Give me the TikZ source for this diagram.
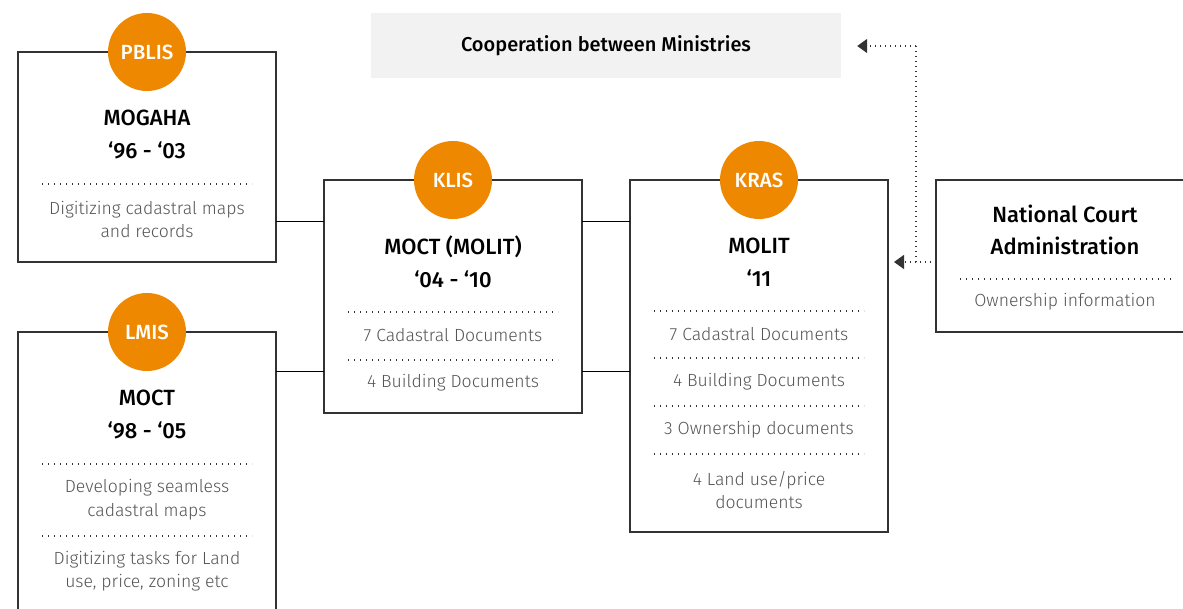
\documentclass[tikz,border=0pt]{standalone}
\usepackage{fontspec}
\setmainfont{Fira Sans}
\newfontfamily\lightf{Fira Sans Light}
\newfontfamily\medf{Fira Sans Medium}
\usetikzlibrary{arrows.meta}
\definecolor{orng}{HTML}{EE8800}
\definecolor{grtxt}{HTML}{555555}
\definecolor{edgec}{HTML}{333333}
\definecolor{coopfill}{HTML}{F2F2F2}
\begin{document}
\begin{tikzpicture}[x=1pt,y=-1pt,
 box/.style={draw=edgec,line width=1.1pt,inner sep=0pt,outer sep=0pt},
 badge/.style={circle,fill=orng,minimum size=78pt,inner sep=0pt,text=white,font=\medf\fontsize{20.5}{22}\selectfont},
 ttl/.style={font=\medf\fontsize{22}{32.5}\selectfont,align=center,text=black,inner sep=0pt},
 itm/.style={font=\lightf\fontsize{17.6}{23.5}\selectfont,align=center,text=grtxt,inner sep=0pt},
 sepl/.style={draw=edgec,line width=1.6pt,dash pattern=on 1.4pt off 4.6pt},
 link/.style={draw=black,line width=1pt},
 dotlink/.style={draw=edgec,line width=1.5pt,dash pattern=on 1.4pt off 3.6pt},
 tipa/.style={-{Triangle[length=10pt,width=14pt]}}
]
\useasboundingbox (0,0) rectangle (1183,609);
\clip (0,0) rectangle (1183,609);
% boxes
\node[box,minimum width=258pt,minimum height=210pt] (A) at (147,157) {};
\node[box,minimum width=258pt,minimum height=308pt] (B) at (147,486) {};
\node[box,minimum width=258pt,minimum height=233pt] (C) at (453,296.5) {};
\node[box,minimum width=258pt,minimum height=352pt] (D) at (759,356) {};
\node[box,minimum width=258pt,minimum height=152pt] (E) at (1065,256) {};
\node[fill=coopfill,minimum width=470pt,minimum height=65pt,inner sep=0pt,font=\medf\fontsize{20}{22}\selectfont] (F) at (606,45.5) {Cooperation between Ministries};
% connectors
\draw[link] (A.east |- 0,222) -- (C.west |- 0,222);
\draw[link] (B.east |- 0,372) -- (C.west |- 0,372);
\draw[link] (C.east |- 0,222) -- (D.west |- 0,222);
\draw[link] (C.east |- 0,372) -- (D.west |- 0,372);
\coordinate (j1) at (916,262);
\coordinate (j2) at (916,46);
\draw[dotlink] (E.west |- j1) -- (j1) -- (j2);
\draw[dotlink,tipa] (j2) -- ([xshift=16pt]F.east |- j2);
\draw[dotlink,tipa] (j1) -- ([xshift=6pt]D.east |- j1);
% badges
\node[badge] (pA) at (A.north) {PBLIS};
\node[badge] (pB) at (B.north) {LMIS};
\node[badge] (pC) at (C.north) {KLIS};
\node[badge] (pD) at (D.north) {KRAS};
% box A
\node[ttl] (tA) at (147,134.5) {MOGAHA\\‘96 - ‘03};
\draw[sepl] (42,184) -- (252,184);
\node[itm] (iA1) at (147,219.5) {Digitizing cadastral maps\\and records};
% box B
\node[ttl] (tB) at (147,414.5) {MOCT\\‘98 - ‘05};
\draw[sepl] (42,464) -- (252,464);
\node[itm] (iB1) at (147,499.5) {Developing seamless\\cadastral maps};
\draw[sepl] (42,536) -- (252,536);
\node[itm] (iB2) at (147,571) {Digitizing tasks for Land\\use, price, zoning etc};
% box C
\node[ttl] (tC) at (453,262) {MOCT (MOLIT)\\‘04 - ‘10};
\draw[sepl] (348,312) -- (558,312);
\node[itm] (iC1) at (453,335) {7 Cadastral Documents};
\draw[sepl] (348,360) -- (558,360);
\node[itm] (iC2) at (453,383) {4 Building Documents};
% box D
\node[ttl] (tD) at (759,262) {MOLIT\\‘11};
\draw[sepl] (654,311) -- (864,311);
\node[itm] (iD1) at (759,334) {7 Cadastral Documents};
\draw[sepl] (654,358) -- (864,358);
\node[itm] (iD2) at (759,382) {4 Building Documents};
\draw[sepl] (654,406) -- (864,406);
\node[itm] (iD3) at (759,430) {3 Ownership documents};
\draw[sepl] (654,454) -- (864,454);
\node[itm] (iD4) at (759,490) {4 Land use/price\\documents};
% box E
\node[ttl] (tE) at (1065,230) {National Court\\Administration};
\draw[sepl] (960,279) -- (1171,279);
\node[itm] (iE1) at (1065,302) {Ownership information};
\end{tikzpicture}
\end{document}
